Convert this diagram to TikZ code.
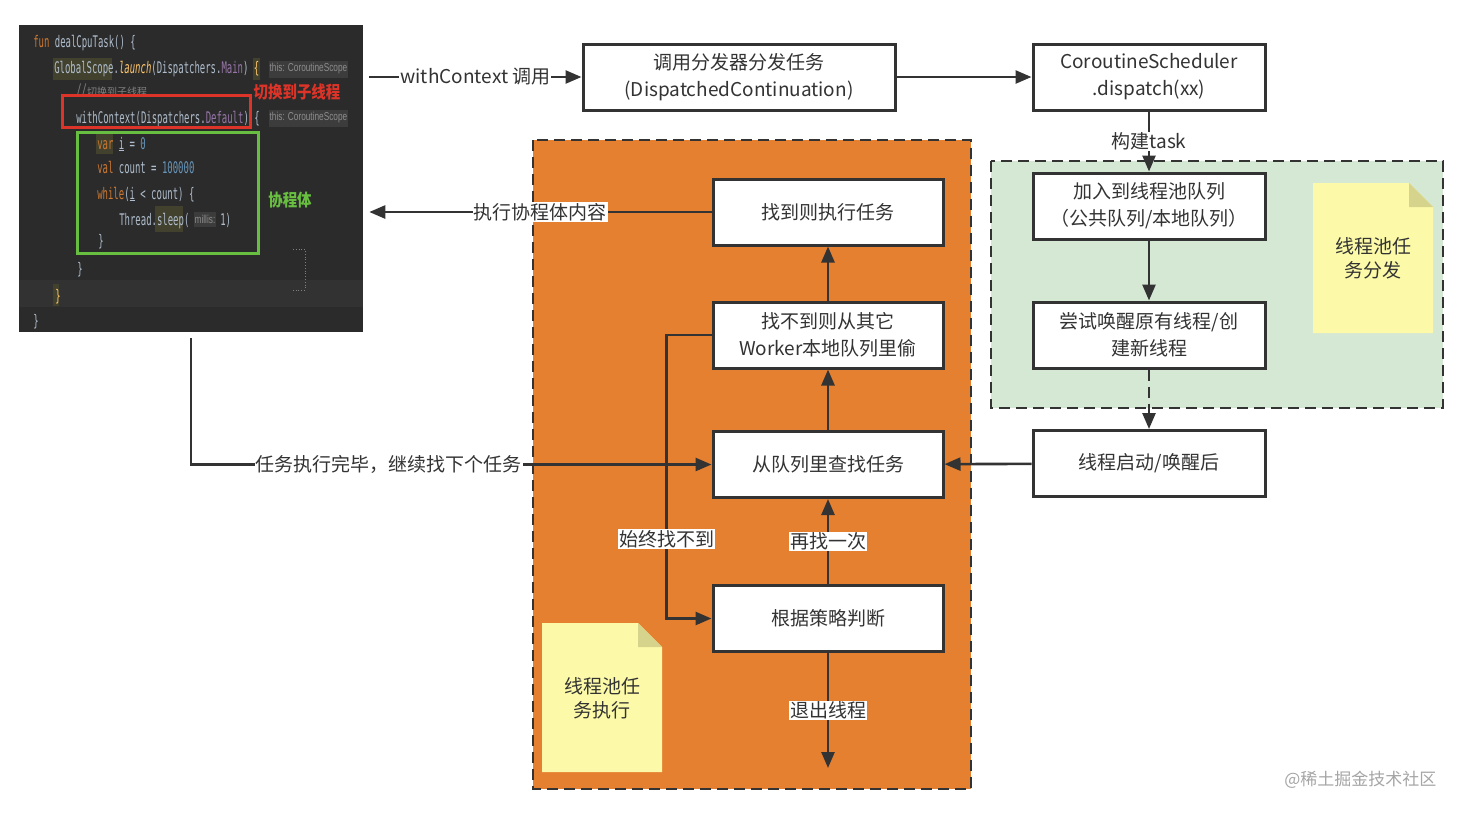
\documentclass[tikz,border=0pt]{standalone}
\usepackage{fontspec}
\setmainfont{Noto Sans CJK SC}
\newfontfamily\codefont[FakeStretch=0.56]{DejaVu Sans Mono}
\newfontfamily\hintfont[FakeStretch=0.72]{Liberation Sans}
\usepackage{tikz}
\usetikzlibrary{shapes, arrows.meta, positioning}
\definecolor{linec}{RGB}{51,51,51}
\definecolor{orangec}{RGB}{229,128,48}
\definecolor{greenc}{RGB}{213,232,212}
\definecolor{notec}{RGB}{252,250,168}
\definecolor{foldc}{RGB}{214,212,140}
\definecolor{codebg}{RGB}{43,43,43}
\definecolor{codeband}{RGB}{50,50,50}
\definecolor{codefg}{RGB}{175,189,204}
\definecolor{ckw}{RGB}{204,120,50}
\definecolor{cfn}{RGB}{255,198,109}
\definecolor{cpur}{RGB}{152,118,170}
\definecolor{cnum}{RGB}{104,151,187}
\definecolor{ccom}{RGB}{128,128,128}
\definecolor{chintbg}{RGB}{60,60,60}
\definecolor{chint}{RGB}{140,140,140}
\definecolor{chl}{RGB}{66,65,46}
\definecolor{cred}{RGB}{220,52,40}
\definecolor{cgreen}{RGB}{104,190,64}
\definecolor{markc}{RGB}{165,165,165}
\tikzstyle{block} = [draw=linec, fill=white, rectangle, line width=3pt, minimum width=232pt, minimum height=66pt, align=center, text=linec, font=\fontsize{19}{27}\selectfont]
\tikzstyle{lbl} = [fill=white, inner sep=1pt, text=linec, font=\fontsize{19}{23}\selectfont]
\tikzstyle{region} = [draw=linec, line width=2.8pt, dash pattern=on 11pt off 6pt]
\tikzstyle{notetext} = [align=center, text=linec, font=\fontsize{19}{24}\selectfont]
\tikzstyle{codeline} = [anchor=base west, inner sep=0pt, text=codefg, font=\codefont\fontsize{16}{16}\selectfont]
\tikzstyle{hint} = [fill=chintbg, text=chint, inner sep=1pt, minimum height=17pt, font=\hintfont\fontsize{11.5}{12}\selectfont]
\tikzstyle{marker} = [font=\bfseries\addfontfeatures{FakeStretch=0.85}\fontsize{17}{17}\selectfont]

\begin{document}
\begin{tikzpicture}[x=1pt, y=-1pt, >={Triangle[length=16pt, width=13pt]}, line width=2.6pt, color=linec]
  \useasboundingbox (0,0) rectangle (1464,812);

  \fill[orangec] (533,140) rectangle (971,789);
  \draw[region] (533,140) rectangle (971,789);
  \fill[greenc] (991,161) rectangle (1443,408);
  \draw[region] (991,161) rectangle (1443,408);

  \fill[notec] (542,623) -- (638,623) -- (662,647) -- (662,772) -- (542,772) -- cycle;
  \fill[foldc] (638,623) -- (662,647) -- (638,647) -- cycle;
  \node[notetext] (execnote) at (602,698) {线程池任\\务执行};
  \fill[notec] (1313,183) -- (1409,183) -- (1433,207) -- (1433,333) -- (1313,333) -- cycle;
  \fill[foldc] (1409,183) -- (1433,207) -- (1409,207) -- cycle;
  \node[notetext] (dispnote) at (1373,258) {线程池任\\务分发};

  \node[fill=codebg, minimum width=344pt, minimum height=307pt, inner sep=0pt] (code) at (191,178.5) {};
  \fill[codeband] (19,280) rectangle (363,307);
  \fill[chl] (53,58) rectangle (112,80);
  \fill[chl] (253,58) rectangle (260,80);
  \fill[chl] (96,132) rectangle (113,154);
  \fill[chl] (155,206) rectangle (183,232);
  \fill[chl] (53,284) rectangle (59,306);
  \draw[ccom, line width=0.8pt, dotted] (293,249) -- (305,249) -- (305,290) -- (293,290);
  \node[codeline] (c1) at (32,47) {\textcolor{ckw}{fun} dealCpuTask() \{};
  \node[codeline] (c2) at (53,73) {GlobalScope.\textcolor{cfn}{\itshape launch}(Dispatchers.\textcolor{cpur}{Main}) \textcolor{cfn}{\{}};
  \node[hint] (h2) at (308.5,69) {this: CoroutineScope};
  \node[codeline, text=ccom] (c3) at (75,95) {//{\normalfont\fontsize{10}{10}\selectfont 切换到子线程}};
  \node[codeline] (c4) at (75,123) {withContext(Dispatchers.\textcolor{cpur}{Default}) \{};
  \node[hint] (h4) at (308.5,118) {this: CoroutineScope};
  \node[codeline] (c5) at (96,149) {\textcolor{ckw}{var} \underline{i} = \textcolor{cnum}{0}};
  \node[codeline] (c6) at (96,173) {\textcolor{ckw}{val} count = \textcolor{cnum}{100000}};
  \node[codeline] (c7) at (96,199) {\textcolor{ckw}{while}(\underline{i} < count) \{};
  \node[codeline] (c8) at (118,225) {Thread.sleep(};
  \node[hint, minimum height=15pt] (h8) at (205,219) {millis:};
  \node[codeline] (c8b) at (219,225) {1)};
  \node[codeline] (c9) at (97,246) {\}};
  \node[codeline] (c10) at (76,274) {\}};
  \node[codeline, text=cfn] (c11) at (54,301) {\}};
  \node[codeline] (c12) at (32,326) {\}};
  \draw[cred, line width=3pt] (62,95) rectangle (250,127);
  \node[marker, text=cred] (switchnote) at (297,92) {切换到子线程};
  \draw[cgreen, line width=3pt] (77,132) rectangle (258,253);
  \node[marker, text=cgreen] (bodynote) at (290,200) {协程体};

  \node[block, minimum width=312pt] (dispatch) at (739,77) {调用分发器分发任务\\(DispatchedContinuation)};
  \node[block, right of=dispatch, node distance=410pt] (sched) {CoroutineScheduler\\.dispatch(xx)};
  \node[block, below of=sched, node distance=129pt] (enqueue) {加入到线程池队列\\（公共队列/本地队列）};
  \node[block, below of=enqueue, node distance=129pt] (wake) {尝试唤醒原有线程/创\\建新线程};
  \node[block, below of=wake, node distance=128.5pt] (started) {线程启动/唤醒后};

  \node[block, minimum width=230pt] (lookup) at (828,464.5) {从队列里查找任务};
  \node[block, minimum width=230pt, above of=lookup, node distance=129.5pt] (steal) {找不到则从其它\\Worker本地队列里偷};
  \node[block, minimum width=230pt, above of=steal, node distance=123pt] (run) {找到则执行任务};
  \node[block, minimum width=230pt, below of=lookup, node distance=154pt] (decide) {根据策略判断};
  \coordinate (exitpt) at (828,768);

  \draw[->] ([xshift=5pt]code.east |- dispatch.west) -- node[lbl] {withContext 调用} (dispatch.west);
  \draw[->] (dispatch) -- (sched);
  \draw[->] (sched) -- node[lbl] {构建task} (enqueue);
  \draw[->] (enqueue) -- (wake);
  \draw[->, dash pattern=on 11pt off 6pt] (wake) -- (started);
  \draw[->] (started) -- (lookup);
  \draw[->] (lookup) -- (steal);
  \draw[->] (steal) -- (run);
  \draw[->] (decide) -- node[lbl] {再找一次} (lookup);
  \draw[->] (decide) -- node[lbl] {退出线程} (exitpt);
  \draw[->] (steal.west) -- ++(-45,0) |- node[lbl, pos=0.36] {始终找不到} (decide.west);
  \draw[->] (run) -- node[lbl] {执行协程体内容} ([xshift=5pt]code.east |- run.west);
  \draw[->] ([yshift=-5pt]code.south) |- node[lbl, pos=0.69] {任务执行完毕，继续找下个任务} (lookup.west);

  \node[text=markc, anchor=east, font=\fontsize{17}{17}\selectfont] (mark) at (1441,780) {@稀土掘金技术社区};
\end{tikzpicture}
\end{document}
